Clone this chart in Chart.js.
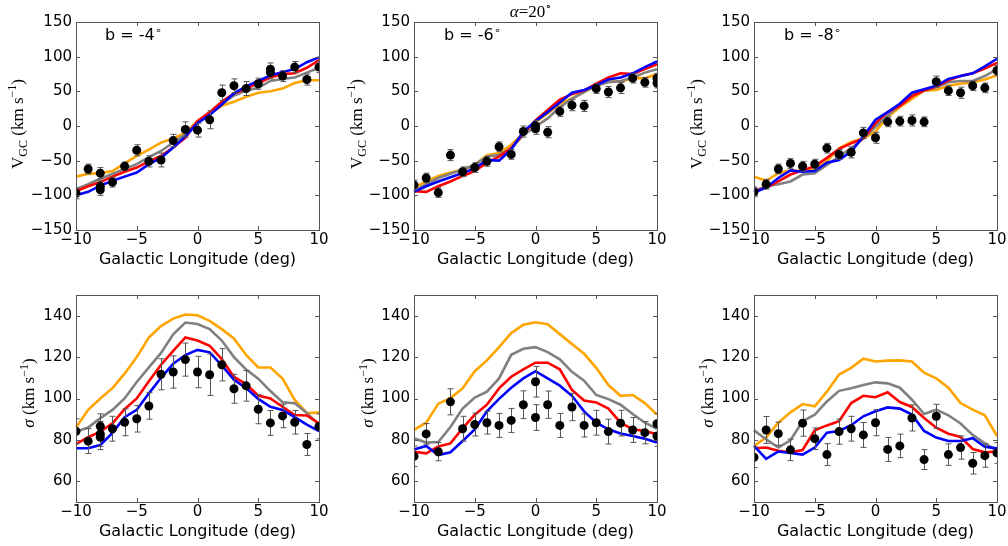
<!DOCTYPE html>
<html>
<head>
<meta charset="utf-8">
<script src="https://cdn.jsdelivr.net/npm/chart.js@4.4.1/dist/chart.umd.min.js"></script>
<style>
body { margin: 0; background: #fff; width: 1008px; height: 546px; position: relative; overflow: hidden; }
.box { position: absolute; }
.ylab { position: absolute; transform: translate(-50%, -50%) rotate(-90deg); white-space: nowrap;
        font-family: 'Liberation Serif', serif; font-size: 17px; color: #000; }
.ylab sub, .ylab sup { font-size: 12px; }
.ann { position: absolute; font-family: 'DejaVu Sans', sans-serif; font-size: 16px; line-height: 1; color: #000; white-space: nowrap; }
.ann sup { font-size: 11px; }
.ttl { position: absolute; font-family: 'Liberation Serif', serif; font-size: 17px; line-height: 1; white-space: nowrap; transform: translateX(-50%); }
.ttl sup { font-size: 11px; }
</style>
</head>
<body>

<div class="box" style="left:16px;top:9px"><canvas id="c1" width="317" height="262"></canvas></div>
<div class="box" style="left:354px;top:9px"><canvas id="c2" width="317" height="262"></canvas></div>
<div class="box" style="left:694px;top:9px"><canvas id="c3" width="317" height="262"></canvas></div>
<div class="box" style="left:16px;top:282px"><canvas id="c4" width="317" height="261"></canvas></div>
<div class="box" style="left:354px;top:282px"><canvas id="c5" width="317" height="261"></canvas></div>
<div class="box" style="left:694px;top:282px"><canvas id="c6" width="317" height="261"></canvas></div>

<div class="ylab" style="left:18px;top:124px">V<sub>GC</sub> (km s<sup>−1</sup>)</div>
<div class="ylab" style="left:357px;top:124px">V<sub>GC</sub> (km s<sup>−1</sup>)</div>
<div class="ylab" style="left:697px;top:124px">V<sub>GC</sub> (km s<sup>−1</sup>)</div>
<div class="ylab" style="left:28px;top:393px"><i>σ</i> (km s<sup>−1</sup>)</div>
<div class="ylab" style="left:367px;top:393px"><i>σ</i> (km s<sup>−1</sup>)</div>
<div class="ylab" style="left:707px;top:393px"><i>σ</i> (km s<sup>−1</sup>)</div>

<div class="ann" style="left:105px;top:25px">b = -4<sup>∘</sup></div>
<div class="ann" style="left:444px;top:25px">b = -6<sup>∘</sup></div>
<div class="ann" style="left:784px;top:25px">b = -8<sup>∘</sup></div>
<div class="ttl" style="left:531px;top:1px"><i>α</i>=20<sup>∘</sup></div>

<script>
// model longitudes (deg)
var modelLon = [-10,-9,-8,-7,-6,-5,-4,-3,-2,-1,0,1,2,3,4,5,6,7,8,9,10];
var xTicks = [-10, -5, 0, 5, 10];
var vTicks = [-150, -100, -50, 0, 50, 100, 150];
var sTicks = [60, 80, 100, 120, 140];

// ---- b = -4 : velocity ----
var lonV4 = [-10,-9,-8,-8,-8,-7,-6,-5,-4,-3,-2,-1,0,1,2,3,4,5,6,6,7,8,9,10];
var obsV4 = [-97,-62,-68,-87,-92,-81,-58,-35,-51,-49,-21,-5,-6,9,48,58,54,61,82,77,72,85,67,85];
var errV4 = [8,7,8,8,8,7,6,8,8,10,9,11,10,13,11,10,10,8,9,9,8,8,8,8];
var orangeV4 = [-73,-69,-68,-65,-54,-43,-34,-24,-18,-10,7,18,29,35,42,48,50,54,62,66,66];
var grayV4 = [-91,-84,-76,-69,-62,-55,-45,-36,-24,-12,6,18,32,44,51,55,65,68,70,77,84];
var redV4 = [-94,-87,-81,-73,-66,-60,-51,-43,-31,-17,7,20,35,47,54,62,70,75,76,84,95];
var blueV4 = [-100,-95,-86,-79,-73,-67,-55,-46,-31,-15,4,16,31,47,57,65,73,78,82,92,99];

// ---- b = -6 : velocity ----
var lonV6 = [-10,-9,-8,-7,-6,-5,-4,-3,-2,-1,0,0,1,2,3,4,5,6,7,8,9,10,10];
var obsV6 = [-85,-75,-96,-42,-66,-60,-51,-30,-41,-8,0,-4,-9,21,30,29,54,49,55,69,63,69,62];
var errV6 = [7,7,7,8,7,7,7,7,7,8,8,8,8,7,8,8,7,8,8,7,7,7,7];
var orangeV6 = [-89,-80,-72,-67,-63,-56,-42,-39,-27,-11,6,18,32,40,50,58,64,64,69,69,75];
var grayV6 = [-94,-84,-75,-69,-63,-56,-44,-42,-32,-13,-1,11,27,39,49,58,63,65,70,77,82];
var redV6 = [-94,-95,-87,-80,-72,-65,-53,-44,-32,-11,8,23,38,46,51,61,70,76,75,82,89];
var blueV6 = [-95,-87,-80,-74,-68,-61,-49,-50,-34,-8,7,20,34,48,52,59,67,70,76,85,93];

// ---- b = -8 : velocity ----
var lonV8 = [-10,-9,-8,-7,-6,-5,-4,-3,-2,-1,0,1,2,3,4,5,6,7,8,9,10];
var obsV8 = [-95,-84,-62,-54,-58,-55,-32,-41,-38,-10,-17,6,7,8,6,64,51,48,58,55,80];
var errV8 = [7,7,7,7,7,7,7,7,8,8,8,7,7,8,7,8,7,8,7,7,7];
var orangeV8 = [-73,-79,-68,-64,-65,-63,-51,-32,-23,-18,-8,13,27,39,51,52,58,61,63,67,73];
var grayV8 = [-94,-87,-84,-80,-70,-68,-56,-44,-32,-18,-1,15,30,44,51,56,63,65,65,72,82];
var redV8 = [-94,-89,-80,-70,-64,-58,-46,-33,-25,-18,4,20,29,43,51,57,66,72,76,83,91];
var blueV8 = [-96,-89,-75,-64,-66,-65,-53,-49,-37,-15,9,20,32,48,53,58,68,72,76,86,97];

// ---- b = -4 : dispersion ----
var lonS4 = [-10,-9,-8,-8,-8,-7,-6,-5,-4,-3,-2,-1,0,1,2,3,4,5,6,7,8,9,10];
var obsS4 = [84.2,79.4,86.6,82.9,81.3,85.4,88.5,90.2,96.4,111.7,112.8,118.8,112.8,111.5,116.3,104.7,106.1,94.8,88.2,91.6,88.5,77.8,86.5];
var errS4 = [6,6,6,6,6,6,6.5,6.4,6.4,7.5,7.8,8,7.6,10,7.8,7,7.4,7,6,5.7,5.7,5.3,6];
var orangeS4 = [86,94.5,100,105,112,120,129.5,135,138.6,140.6,140.2,137.5,133.5,129,121,115,115,109.6,99.3,93,93.2];
var grayS4 = [84,86,90.5,94.5,100,108,115,122,131,136.7,136,133.5,128,120,114,109.6,103.6,98.2,97.7,93,87.4];
var redS4 = [78,81.3,84,88,94.8,100,108.3,116.3,123,129.5,128,125.5,119,110.4,107,101.4,100,96,92,91.8,88];
var blueS4 = [76,76,77.5,83.4,91,94.5,102.5,110,116.8,121,123.5,122.3,116,109,105,99.8,96,94.5,91,87.4,84.2];

// ---- b = -6 : dispersion ----
var lonS6 = [-10,-9,-8,-7,-6,-5,-4,-3,-2,-1,0,0,1,2,3,4,5,6,7,8,9,10,10];
var obsS6 = [72.1,82.9,74.3,98.4,85.4,87.4,88.3,87,89.4,97,108.1,90.8,97,87,95.9,87,88.3,84,88.1,84.8,83.5,87.8,81.9];
var errS6 = [5,5,4.4,6.3,6,5.5,5.5,5.8,5.8,6.7,7.4,6.2,6.6,5.8,6.6,5.6,6,6,6.2,6,5.4,5,5];
var orangeS6 = [84.8,88.3,97.5,100.2,104.9,113.2,118.4,124.8,131.6,135.6,136.8,135.9,131.1,126.3,121.6,114.8,106.5,101.3,101.7,97.8,92.2];
var grayS6 = [80.8,78.7,79,86.2,95.1,100.5,103.3,109.7,121.1,124,124.8,122.4,118.9,112.9,108.6,101.7,99.7,97,92.5,88.3,85.4];
var redS6 = [74.3,73.5,76.8,78.3,85.6,92.2,97,104.9,110.5,114.1,117.3,117.3,114.1,104.1,99,98.1,95.1,88.3,85.1,84.3,82.7];
var blueS6 = [75.4,77.1,72.7,74,79.5,85.1,93.8,99.8,105.2,109.7,113.2,109.7,106.2,101.3,93.8,88.3,85.1,83.1,81.9,80.6,78.7];

// ---- b = -8 : dispersion ----
var lonS8 = [-10,-9,-8,-7,-6,-5,-4,-3,-2,-1,0,1,2,3,4,5,6,7,8,9,10];
var obsS8 = [71.6,84.8,83,75.2,88.1,80.6,72.9,84,85.4,82.4,88.3,75.4,77.1,90.6,70.5,91.4,72.9,76.3,68.7,72.4,73.7];
var errS8 = [5,6.5,5.6,5.2,6.3,5.2,5.3,6.1,6,6,6.3,5.8,5.7,6.3,4.8,5.8,5.2,5.6,5.2,5.6,5];
var orangeS8 = [77.1,81.1,88.3,93.3,97.3,96.2,103.3,111.6,114.8,119.2,117.9,118.3,118.4,117.9,112.5,109.7,105.2,97.8,94.6,91.9,81.9];
var grayS8 = [84.6,80.3,76.3,79.8,89,92.2,98.6,103.7,104.9,106.5,107.8,107.3,105.2,99.4,92.5,94.6,91.9,87.9,82.4,78.4,74.8];
var redS8 = [76,76.3,74.8,74,75.1,84.6,87,89,97.8,101.3,100.6,103,98.3,95.9,90.6,85.9,83,81.4,75.6,74,74.4];
var blueS8 = [77.1,70.8,74.4,73.7,72.9,76.3,83.5,84.3,87.1,91.4,93.8,95.7,95.1,92.2,84.3,81.1,79.5,79.5,80.8,76.7,75.9];

function pairs(xs, ys) {
  return xs.map(function (x, i) { return { x: x, y: ys[i] }; });
}

// error bars under the points, inward ticks and frame on all four sides
var axesPlugin = {
  id: 'axesStyle',
  beforeDatasetDraw: function (chart, args) {
    if (args.index !== 0) return;
    var ds = chart.data.datasets[0];
    var xs = chart.scales.x, ys = chart.scales.y, a = chart.chartArea, ctx = chart.ctx;
    ctx.save();
    ctx.beginPath();
    ctx.rect(a.left, a.top, a.right - a.left, a.bottom - a.top);
    ctx.clip();
    ctx.strokeStyle = '#555';
    ctx.lineWidth = 1;
    ds.data.forEach(function (p, i) {
      var e = ds.errs[i];
      var px = Math.round(xs.getPixelForValue(p.x)) + 0.5;
      var y1 = ys.getPixelForValue(p.y - e), y2 = ys.getPixelForValue(p.y + e);
      ctx.beginPath();
      ctx.moveTo(px, y1); ctx.lineTo(px, y2);
      ctx.moveTo(px - 3, y1); ctx.lineTo(px + 3, y1);
      ctx.moveTo(px - 3, y2); ctx.lineTo(px + 3, y2);
      ctx.stroke();
    });
    ctx.restore();
  },
  afterDraw: function (chart) {
    var xs = chart.scales.x, ys = chart.scales.y, a = chart.chartArea, ctx = chart.ctx;
    ctx.save();
    ctx.strokeStyle = '#555';
    ctx.lineWidth = 1;
    ctx.beginPath();
    xs.ticks.forEach(function (t) {
      var px = Math.round(xs.getPixelForValue(t.value)) + 0.5;
      ctx.moveTo(px, a.bottom); ctx.lineTo(px, a.bottom - 4);
      ctx.moveTo(px, a.top); ctx.lineTo(px, a.top + 4);
    });
    ys.ticks.forEach(function (t) {
      var py = Math.round(ys.getPixelForValue(t.value)) + 0.5;
      ctx.moveTo(a.left, py); ctx.lineTo(a.left + 4, py);
      ctx.moveTo(a.right, py); ctx.lineTo(a.right - 4, py);
    });
    ctx.stroke();
    ctx.strokeRect(Math.round(a.left) + 0.5, Math.round(a.top) + 0.5,
                   Math.round(a.right - a.left), Math.round(a.bottom - a.top));
    ctx.restore();
  }
};

function minus(v) { return String(v).replace('-', '\u2212'); }

function makePanel(id, lon, obs, err, orange, gray, red, blue, yMin, yMax, yTicks) {
  var line = function (vals, color) {
    return { data: pairs(modelLon, vals), borderColor: color, borderWidth: 2.6,
             pointRadius: 0, fill: false, tension: 0, clip: 1 };
  };
  new Chart(document.getElementById(id), {
    type: 'line',
    data: {
      datasets: [
        { data: pairs(lon, obs), errs: err, showLine: false, pointRadius: 4.5,
          pointBackgroundColor: '#000', pointBorderWidth: 0, clip: 0 },
        line(blue, '#0000ff'),
        line(red, '#ff0000'),
        line(gray, '#808080'),
        line(orange, '#ffa500')
      ]
    },
    options: {
      responsive: false,
      animation: false,
      layout: { padding: { top: 10, right: 14, left: 0, bottom: 0 } },
      plugins: { legend: { display: false }, tooltip: { enabled: false } },
      scales: {
        x: {
          type: 'linear', min: -10, max: 10,
          afterBuildTicks: function (s) { s.ticks = xTicks.map(function (v) { return { value: v }; }); },
          afterFit: function (s) { s.height = 41; },
          grid: { display: false, drawTicks: false },
          border: { display: false },
          ticks: { padding: 1, maxRotation: 0, color: '#000',
                   font: { family: 'DejaVu Sans', size: 15 }, callback: minus },
          title: { display: true, text: 'Galactic Longitude (deg)', color: '#000',
                   font: { family: 'DejaVu Sans', size: 16 }, padding: { top: 0, bottom: 2 } }
        },
        y: {
          min: yMin, max: yMax,
          afterBuildTicks: function (s) { s.ticks = yTicks.map(function (v) { return { value: v }; }); },
          afterFit: function (s) { s.width = 60; },
          grid: { display: false, drawTicks: false },
          border: { display: false },
          ticks: { padding: 4, color: '#000',
                   font: { family: 'DejaVu Sans', size: 15 }, callback: minus }
        }
      }
    },
    plugins: [axesPlugin]
  });
}

makePanel('c1', lonV4, obsV4, errV4, orangeV4, grayV4, redV4, blueV4, -150, 150, vTicks);
makePanel('c2', lonV6, obsV6, errV6, orangeV6, grayV6, redV6, blueV6, -150, 150, vTicks);
makePanel('c3', lonV8, obsV8, errV8, orangeV8, grayV8, redV8, blueV8, -150, 150, vTicks);
makePanel('c4', lonS4, obsS4, errS4, orangeS4, grayS4, redS4, blueS4, 50, 150, sTicks);
makePanel('c5', lonS6, obsS6, errS6, orangeS6, grayS6, redS6, blueS6, 50, 150, sTicks);
makePanel('c6', lonS8, obsS8, errS8, orangeS8, grayS8, redS8, blueS8, 50, 150, sTicks);
</script>
</body>
</html>
